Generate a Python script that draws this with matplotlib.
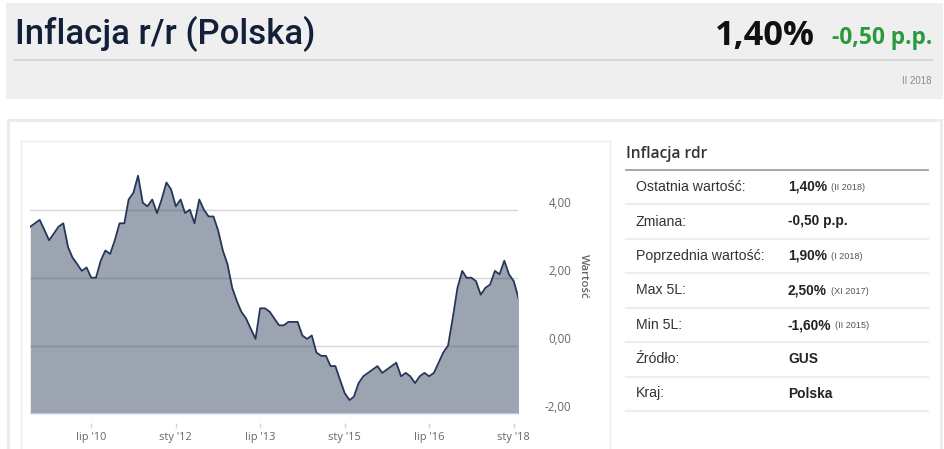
import matplotlib
matplotlib.use("Agg")
import matplotlib.pyplot as plt
from matplotlib.patches import Rectangle
from matplotlib.transforms import Affine2D
import pandas as pd

# ---------------- data ----------------
start_month = "2009-06-01"
inflation = [
    3.5, 3.6, 3.7, 3.4, 3.1, 3.3, 3.5,                               # 2009 VI-XII
    3.6, 2.9, 2.6, 2.4, 2.2, 2.3, 2.0, 2.0, 2.5, 2.8, 2.7, 3.1,      # 2010
    3.6, 3.6, 4.3, 4.5, 5.0, 4.2, 4.1, 4.3, 3.9, 4.3, 4.8, 4.6,      # 2011
    4.1, 4.3, 3.9, 4.0, 3.6, 4.3, 4.0, 3.8, 3.8, 3.4, 2.8, 2.4,      # 2012
    1.7, 1.3, 1.0, 0.8, 0.5, 0.2, 1.1, 1.1, 1.0, 0.8, 0.6, 0.6,      # 2013
    0.7, 0.7, 0.7, 0.3, 0.2, 0.3, -0.2, -0.3, -0.3, -0.6, -0.6, -1.0,  # 2014
    -1.4, -1.6, -1.5, -1.1, -0.9, -0.8, -0.7, -0.6, -0.8, -0.7, -0.6, -0.5,  # 2015
    -0.9, -0.8, -0.9, -1.1, -0.9, -0.8, -0.9, -0.8, -0.5, -0.2, 0.0, 0.8,    # 2016
    1.7, 2.2, 2.0, 2.0, 1.9, 1.5, 1.7, 1.8, 2.2, 2.1, 2.5, 2.1,      # 2017
    1.9, 1.4,                                                         # 2018 I-II
]
x_tick_dates = ["2010-07-01", "2012-01-01", "2013-07-01", "2015-01-01", "2016-07-01", "2018-01-01"]
x_tick_labels = ["lip '10", "sty '12", "lip '13", "sty '15", "lip '16", "sty '18"]
y_ticks = [-2, 0, 2, 4]
y_tick_labels = ["-2,00", "0,00", "2,00", "4,00"]

title = "Inflacja r/r (Polska)"
last_value = "1,40%"
change_value = "-0,50 p.p."
period = "II 2018"

table_title = "Inflacja rdr"
row_labels = ["Ostatnia wartość:", "Zmiana:", "Poprzednia wartość:", "Max 5L:", "Min 5L:", "Źródło:", "Kraj:"]
row_values = ["1,40%", "-0,50 p.p.", "1,90%", "2,50%", "-1,60%", "GUS", "Polska"]
row_notes = ["(II 2018)", "", "(I 2018)", "(XI 2017)", "(II 2015)", "", ""]

# ---------------- figure ----------------
W, H = 945, 449
fig = plt.figure(figsize=(W / 100, H / 100), dpi=100)
fig.patch.set_facecolor("white")
PX = Affine2D().scale(1 / W, -1 / H).translate(0, 1) + fig.transFigure


def rect(x0, y0, x1, y1, **kw):
    r = Rectangle((x0, y0), x1 - x0, y1 - y0, transform=PX, zorder=-5, **kw)
    fig.add_artist(r)
    return r


def line(x0, x1, y, color, lw):
    fig.add_artist(plt.Line2D([x0, x1], [y, y], transform=PX, color=color, lw=lw, zorder=-4))


def ftext(x, y, s, **kw):
    return fig.text(x / W, 1 - y / H, s, **kw)


# header panel
rect(6, 3, 943, 98.5, facecolor="#efefef", edgecolor="none")
line(15, 932, 60, "#d6d6d6", 1.5)
t_title = ftext(15, 44, title, fontsize=24, color="#13203a", family="Roboto",
                weight="medium", ha="left", va="baseline")
t_last = ftext(815, 45, last_value, fontsize=24, color="#111111", family="Open Sans",
               weight="bold", ha="right", va="baseline")
t_change = ftext(932, 43.5, change_value, fontsize=15, color="#2b9a3c", family="Open Sans",
                 weight="bold", ha="right", va="baseline")
ftext(932, 81.5, period, fontsize=7, color="#8a8a8a", family="Liberation Sans",
      ha="right", va="center")

# lower panel
rect(7.5, 119.5, 940.5, 470, facecolor="white", edgecolor="#ececec", lw=2.2)
rect(20.5, 140.5, 610, 470, facecolor="white", edgecolor="#ebebeb", lw=1)

# fit header text widths
fig.canvas.draw()
r = fig.canvas.get_renderer()
for t, target in [(t_title, 301), (t_last, 100), (t_change, 101)]:
    bb = t.get_window_extent(r)
    t.set_fontsize(t.get_fontsize() * target / bb.width)

# ---------------- chart ----------------
left, right, top, bottom = 30.3, 518.5, 141.7, 413.7
ax = fig.add_axes([left / W, 1 - bottom / H, (right - left) / W, (bottom - top) / H])
ax.set_zorder(5)
ax.set_facecolor("none")
dates = pd.date_range(start_month, periods=len(inflation), freq="MS")
ax.set_xlim(dates[0], dates[-1])
ax.set_ylim(-2, 6)

for v in [0, 2, 4]:
    ax.axhline(v, color="#d6d6d6", lw=1, zorder=1)
ax.fill_between(dates, inflation, -2, color="#1f3050", alpha=0.44, lw=0, zorder=2)
ax.plot(dates, inflation, color="#26365a", lw=1.3, zorder=3, solid_joinstyle="round")
ax.axhline(-2, color="#ccd6eb", lw=1.2, zorder=4)

for s in ax.spines.values():
    s.set_visible(False)
ax.spines["bottom"].set_position(("outward", 9.5 * 0.72))

ax.set_xticks(pd.to_datetime(x_tick_dates))
ax.set_xticklabels(x_tick_labels)
ax.tick_params(axis="x", length=5 * 0.72, width=1, color="#ccd6eb", pad=3,
               labelsize=7.9, labelcolor="#666666")
for lb in ax.get_xticklabels():
    lb.set_family("Open Sans")

ax.yaxis.tick_right()
ax.set_yticks(y_ticks)
ax.set_yticklabels(y_tick_labels)
ax.tick_params(axis="y", length=0, pad=(571.5 - right) * 0.72, labelsize=8.3,
               labelcolor="#666666")
for lb in ax.get_yticklabels():
    lb.set_family("Open Sans")
    lb.set_ha("right")
    lb.set_va("bottom")

ftext(583, 276, "Wartość", rotation=270, fontsize=8.2, color="#666666", family="Open Sans",
      weight="semibold", ha="center", va="center")

# ---------------- table ----------------
ftext(626, 154, table_title, fontsize=11.2, color="#333333", family="Open Sans",
      weight="semibold", ha="left", va="center")
line(626, 928, 169.5, "#a0a0a0", 1.3)
row_y = [186.7, 221.5, 256, 290.5, 325, 359.3, 393.5]
sep_y = [204, 238.5, 273, 308, 342.3, 376.7, 411]
for y in sep_y:
    line(626, 928, y, "#eeeeee", 1.6)

val_texts = []
for y, lab, val in zip(row_y, row_labels, row_values):
    ftext(636, y, lab, fontsize=10.2, color="#333333", family="Liberation Sans",
          ha="left", va="center")
    val_texts.append(ftext(788, y, val, fontsize=9.9, color="#222222", family="Liberation Sans",
                           weight="bold", ha="left", va="center"))
fig.canvas.draw()
r = fig.canvas.get_renderer()
for t, note, y in zip(val_texts, row_notes, row_y):
    if note:
        bb = t.get_window_extent(r)
        ftext(bb.x1 + 4, y + 0.8, note, fontsize=6.6, color="#555555",
              family="Liberation Sans", ha="left", va="center")

fig.savefig("out.png", dpi=100, facecolor="white")
